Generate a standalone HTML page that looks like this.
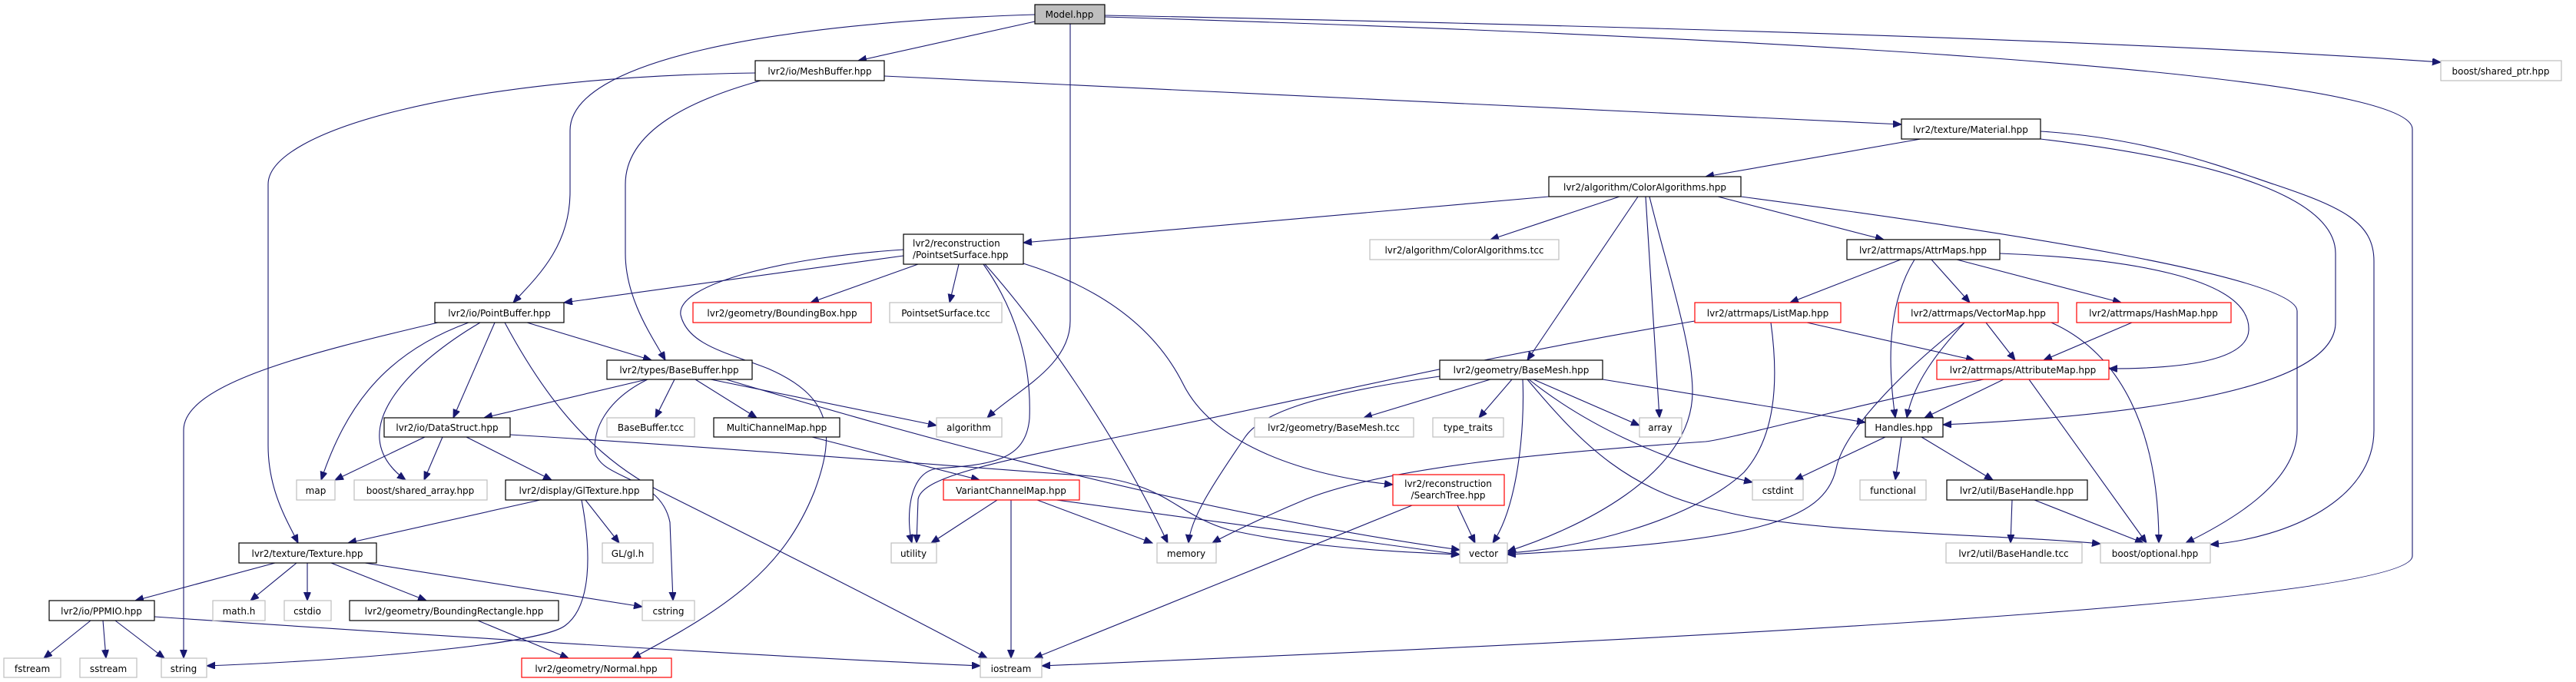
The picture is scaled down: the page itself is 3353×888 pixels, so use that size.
<!DOCTYPE html>
<html><head><meta charset="utf-8"><style>
html,body{margin:0;padding:0;background:#fff;}
svg{display:block;}
text{font-family:"DejaVu Sans","Liberation Sans",sans-serif;font-size:12px;fill:#000;}
.b{fill:#fff;stroke:#000;stroke-width:1.2}
.g{fill:#fff;stroke:#bfbfbf;stroke-width:1.2}
.r{fill:#fff;stroke:#ff0000;stroke-width:1.2}
.m{fill:#bfbfbf;stroke:#000;stroke-width:1.2}
.e path{fill:none;stroke:#191970;stroke-width:1.1;marker-end:url(#a)}
</style></head><body>
<svg width="3353" height="888" viewBox="0 0 3353 888" xmlns="http://www.w3.org/2000/svg">
<defs><marker id="a" markerUnits="userSpaceOnUse" markerWidth="12" markerHeight="10" refX="11" refY="4.5" orient="auto"><path d="M0,0 L11,4.5 L0,9 z" fill="#191970" stroke="#191970"/></marker></defs>
<g class="e">
<path d="M1347,28 L1117,79"/>
<path d="M1347,19 C1000,30 742,80 742,170 L742,250 C742,320 700,360 668,394"/>
<path d="M1393,31 L1393,418 C1393,478 1320,510 1285,544"/>
<path d="M1438,20 C2200,35 2800,55 3177,81"/>
<path d="M1438,22 C2200,45 3140,90 3140,168 L3140,724 C3140,790 2000,840 1356,867"/>
<path d="M983,95 C600,100 349,170 349,240 L349,580 C349,640 375,680 388,707"/>
<path d="M990,105 C900,130 814,170 814,240 L814,330 C814,390 850,440 866,469"/>
<path d="M1151,99 L2475,162"/>
<path d="M2500,181 L2220,230"/>
<path d="M2656,181 C2900,210 3040,260 3040,330 L3040,420 C3040,520 2700,545 2529,553"/>
<path d="M2656,171 C2800,180 2900,220 2960,240 C3050,270 3090,290 3090,340 L3090,560 C3090,650 2980,700 2877,709"/>
<path d="M2016,256 L1332,316"/>
<path d="M2108,256 L1940,312"/>
<path d="M2132,256 L1988,469"/>
<path d="M2142,256 L2160,544"/>
<path d="M2147,256 C2170,350 2203,450 2203,510 C2203,620 2050,690 1962,718"/>
<path d="M2236,256 L2452,312"/>
<path d="M2266,256 C2600,300 2990,360 2990,405 L2990,560 C2990,630 2900,680 2845,707"/>
<path d="M1176,333 L734,394"/>
<path d="M1195,344 L1055,394"/>
<path d="M1248,344 L1236,394"/>
<path d="M1176,325 C1020,335 880,370 886,410 C895,450 950,460 1000,480 C1080,515 1090,560 1060,640 C1020,740 950,790 823,857"/>
<path d="M1280,344 C1320,400 1343,470 1340,545 C1335,600 1290,605 1220,610 C1180,615 1180,680 1187,707"/>
<path d="M1282,344 C1350,420 1450,560 1520,707"/>
<path d="M1332,343 C1450,380 1510,440 1540,500 C1580,580 1700,620 1813,631"/>
<path d="M570,420 C400,460 239,500 239,560 L239,857"/>
<path d="M610,420 C500,460 450,530 418,625"/>
<path d="M625,420 C540,470 440,560 528,625"/>
<path d="M644,420 L590,544"/>
<path d="M657,420 C700,500 760,590 860,640 C1000,710 1160,790 1285,857"/>
<path d="M686,420 L848,469"/>
<path d="M842,494 L630,544"/>
<path d="M878,494 L853,544"/>
<path d="M905,494 L985,544"/>
<path d="M925,494 L1219,554"/>
<path d="M945,494 C1100,540 1500,660 1900,716"/>
<path d="M843,494 C790,520 770,560 775,590 C785,625 860,620 872,680 L876,782"/>
<path d="M1057,569 L1275,625"/>
<path d="M553,569 L436,625"/>
<path d="M576,569 L552,625"/>
<path d="M607,569 L718,625"/>
<path d="M664,566 C900,580 1150,600 1420,620 C1520,630 1530,670 1600,690 C1700,712 1800,718 1900,722"/>
<path d="M703,651 L453,707"/>
<path d="M762,651 L806,707"/>
<path d="M757,651 C770,720 770,790 735,815 C700,840 450,860 269,867"/>
<path d="M358,733 L176,782"/>
<path d="M386,733 L326,782"/>
<path d="M400,733 L400,782"/>
<path d="M431,733 L555,782"/>
<path d="M475,733 L836,790"/>
<path d="M118,808 L57,857"/>
<path d="M134,808 L138,857"/>
<path d="M150,808 L214,857"/>
<path d="M201,803 C600,830 1000,855 1276,867"/>
<path d="M622,808 L740,857"/>
<path d="M1298,651 L1212,707"/>
<path d="M1316,651 L1316,857"/>
<path d="M1350,651 L1500,707"/>
<path d="M1375,651 L1900,722"/>
<path d="M1838,658 L1346,857"/>
<path d="M1897,658 L1920,707"/>
<path d="M1874,490 C1700,515 1640,540 1620,570 C1590,615 1550,670 1547,707"/>
<path d="M1940,494 L1775,544"/>
<path d="M1968,494 L1925,544"/>
<path d="M1982,494 C1985,560 1975,660 1943,707"/>
<path d="M1996,494 L2134,554"/>
<path d="M1990,494 C2060,550 2160,600 2281,628"/>
<path d="M1988,494 C2060,580 2120,640 2240,665 C2350,695 2600,695 2734,708"/>
<path d="M2086,494 L2428,550"/>
<path d="M2582,494 C2400,530 2260,570 2220,575 C2000,590 1800,610 1700,650 C1640,675 1590,700 1578,707"/>
<path d="M2206,418 C1900,470 1700,520 1500,560 C1300,600 1200,620 1195,650 L1193,707"/>
<path d="M2305,420 C2316,500 2310,570 2270,615 C2200,680 2050,715 1962,720"/>
<path d="M2352,420 L2570,469"/>
<path d="M2585,420 L2623,469"/>
<path d="M2557,420 C2520,460 2490,500 2482,544"/>
<path d="M2557,420 C2480,480 2400,560 2390,610 C2375,680 2280,705 1962,722"/>
<path d="M2670,420 C2760,460 2810,560 2810,707"/>
<path d="M2775,420 L2660,469"/>
<path d="M2474,338 L2330,394"/>
<path d="M2514,338 L2564,394"/>
<path d="M2547,338 L2761,394"/>
<path d="M2492,338 C2460,390 2455,460 2467,544"/>
<path d="M2603,330 C2760,336 2930,360 2927,430 C2925,470 2840,480 2745,480"/>
<path d="M2608,494 L2505,544"/>
<path d="M2641,494 L2794,707"/>
<path d="M2454,569 L2336,625"/>
<path d="M2475,569 L2467,625"/>
<path d="M2501,569 L2594,625"/>
<path d="M2619,651 L2617,707"/>
<path d="M2648,651 L2790,707"/>
</g>
<g text-anchor="middle">
<rect class="m" x="1347" y="6" width="91" height="25"/><text x="1392" y="23">Model.hpp</text>
<rect class="b" x="983" y="79" width="168" height="26"/><text x="1067" y="97">lvr2/io/MeshBuffer.hpp</text>
<rect class="g" x="3177" y="79" width="157" height="26"/><text x="3255" y="97">boost/shared_ptr.hpp</text>
<rect class="b" x="2475" y="155" width="181" height="26"/><text x="2565" y="173">lvr2/texture/Material.hpp</text>
<rect class="b" x="2016" y="230" width="250" height="26"/><text x="2141" y="248">lvr2/algorithm/ColorAlgorithms.hpp</text>
<rect class="b" x="1176" y="305" width="156" height="39"/><text x="1188" y="321" text-anchor="start">lvr2/reconstruction</text><text x="1188" y="336" text-anchor="start">/PointsetSurface.hpp</text>
<rect class="g" x="1783" y="312" width="246" height="26"/><text x="1906" y="330">lvr2/algorithm/ColorAlgorithms.tcc</text>
<rect class="b" x="2404" y="312" width="199" height="26"/><text x="2503" y="330">lvr2/attrmaps/AttrMaps.hpp</text>
<rect class="b" x="566" y="394" width="168" height="26"/><text x="650" y="412">lvr2/io/PointBuffer.hpp</text>
<rect class="r" x="902" y="394" width="232" height="26"/><text x="1018" y="412">lvr2/geometry/BoundingBox.hpp</text>
<rect class="g" x="1158" y="394" width="146" height="26"/><text x="1231" y="412">PointsetSurface.tcc</text>
<rect class="r" x="2206" y="394" width="190" height="26"/><text x="2301" y="412">lvr2/attrmaps/ListMap.hpp</text>
<rect class="r" x="2471" y="394" width="208" height="26"/><text x="2575" y="412">lvr2/attrmaps/VectorMap.hpp</text>
<rect class="r" x="2703" y="394" width="201" height="26"/><text x="2803" y="412">lvr2/attrmaps/HashMap.hpp</text>
<rect class="b" x="790" y="469" width="189" height="25"/><text x="884" y="486">lvr2/types/BaseBuffer.hpp</text>
<rect class="b" x="1874" y="469" width="212" height="25"/><text x="1980" y="486">lvr2/geometry/BaseMesh.hpp</text>
<rect class="r" x="2521" y="469" width="224" height="25"/><text x="2633" y="486">lvr2/attrmaps/AttributeMap.hpp</text>
<rect class="b" x="500" y="544" width="164" height="25"/><text x="582" y="561">lvr2/io/DataStruct.hpp</text>
<rect class="g" x="790" y="544" width="114" height="25"/><text x="847" y="561">BaseBuffer.tcc</text>
<rect class="b" x="929" y="544" width="164" height="25"/><text x="1011" y="561">MultiChannelMap.hpp</text>
<rect class="g" x="1219" y="544" width="85" height="25"/><text x="1261" y="561">algorithm</text>
<rect class="g" x="1633" y="544" width="207" height="25"/><text x="1736" y="561">lvr2/geometry/BaseMesh.tcc</text>
<rect class="g" x="1865" y="544" width="92" height="25"/><text x="1911" y="561">type_traits</text>
<rect class="g" x="2134" y="544" width="55" height="25"/><text x="2161" y="561">array</text>
<rect class="b" x="2428" y="544" width="101" height="25"/><text x="2478" y="561">Handles.hpp</text>
<rect class="g" x="386" y="625" width="50" height="26"/><text x="411" y="643">map</text>
<rect class="g" x="461" y="625" width="173" height="26"/><text x="547" y="643">boost/shared_array.hpp</text>
<rect class="b" x="658" y="625" width="192" height="26"/><text x="754" y="643">lvr2/display/GlTexture.hpp</text>
<rect class="r" x="1228" y="625" width="177" height="26"/><text x="1316" y="643">VariantChannelMap.hpp</text>
<rect class="r" x="1813" y="618" width="145" height="40"/><text x="1885" y="634">lvr2/reconstruction</text><text x="1885" y="649">/SearchTree.hpp</text>
<rect class="g" x="2281" y="625" width="66" height="26"/><text x="2314" y="643">cstdint</text>
<rect class="g" x="2421" y="625" width="86" height="26"/><text x="2464" y="643">functional</text>
<rect class="b" x="2534" y="625" width="183" height="26"/><text x="2625" y="643">lvr2/util/BaseHandle.hpp</text>
<rect class="b" x="311" y="707" width="179" height="26"/><text x="400" y="725">lvr2/texture/Texture.hpp</text>
<rect class="g" x="784" y="707" width="66" height="26"/><text x="817" y="725">GL/gl.h</text>
<rect class="g" x="1160" y="707" width="59" height="26"/><text x="1189" y="725">utility</text>
<rect class="g" x="1506" y="707" width="77" height="26"/><text x="1544" y="725">memory</text>
<rect class="g" x="1900" y="707" width="62" height="26"/><text x="1931" y="725">vector</text>
<rect class="g" x="2533" y="707" width="177" height="26"/><text x="2621" y="725">lvr2/util/BaseHandle.tcc</text>
<rect class="g" x="2734" y="707" width="143" height="26"/><text x="2805" y="725">boost/optional.hpp</text>
<rect class="b" x="64" y="782" width="137" height="26"/><text x="132" y="800">lvr2/io/PPMIO.hpp</text>
<rect class="g" x="277" y="782" width="68" height="26"/><text x="311" y="800">math.h</text>
<rect class="g" x="370" y="782" width="61" height="26"/><text x="400" y="800">cstdio</text>
<rect class="b" x="455" y="782" width="272" height="26"/><text x="591" y="800">lvr2/geometry/BoundingRectangle.hpp</text>
<rect class="g" x="836" y="782" width="68" height="26"/><text x="870" y="800">cstring</text>
<rect class="g" x="5" y="857" width="74" height="25"/><text x="42" y="875">fstream</text>
<rect class="g" x="104" y="857" width="74" height="25"/><text x="141" y="875">sstream</text>
<rect class="g" x="210" y="857" width="59" height="25"/><text x="239" y="875">string</text>
<rect class="r" x="679" y="857" width="195" height="25"/><text x="776" y="875">lvr2/geometry/Normal.hpp</text>
<rect class="g" x="1276" y="857" width="80" height="25"/><text x="1316" y="875">iostream</text>
</g>
</svg>
</body></html>
